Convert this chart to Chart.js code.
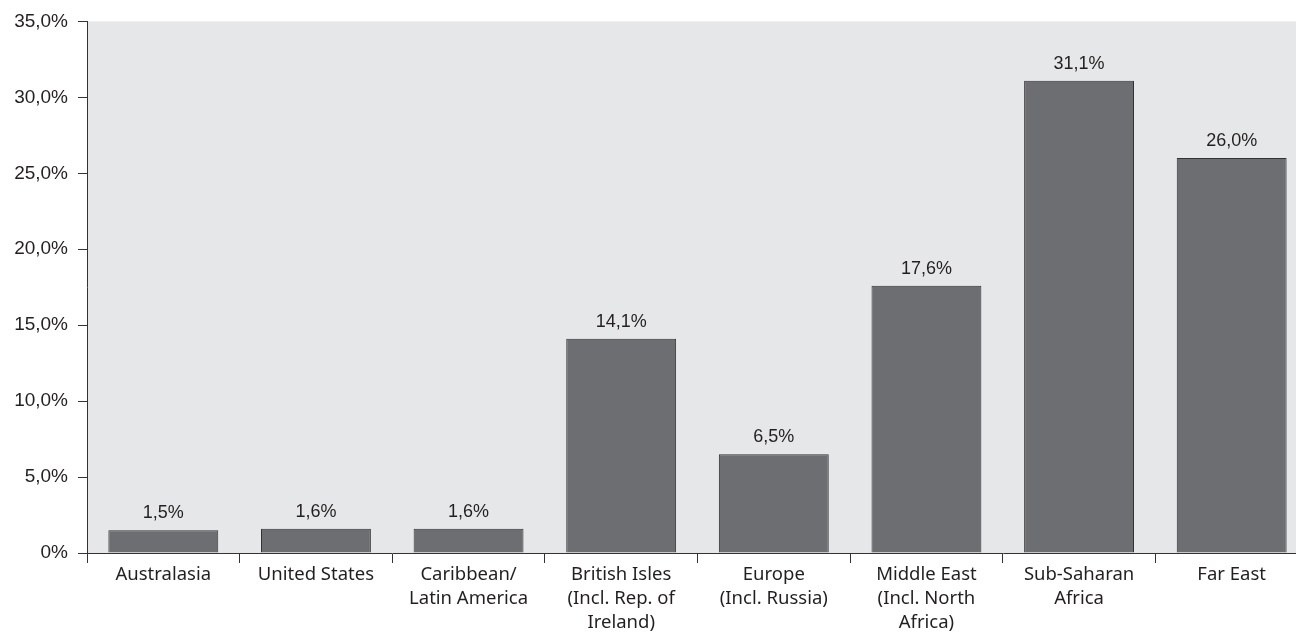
<!DOCTYPE html>
<html>
<head>
  <meta charset="utf-8" />
  <title>Regions</title>
  <script src="https://cdn.jsdelivr.net/npm/chart.js@4.4.0/dist/chart.umd.min.js"></script>
  <style>
    body { margin: 0; background: #fff; overflow: hidden; }
    #wrap { width: 1296px; height: 641px; position: relative; overflow: hidden; }
  </style>
</head>
<body>
<div id="wrap"><canvas id="regionChart" width="1308" height="641"></canvas></div>
<script>
  const regions = [
    'Australasia',
    'United States',
    ['Caribbean/', 'Latin America'],
    ['British Isles', '(Incl. Rep. of', 'Ireland)'],
    ['Europe', '(Incl. Russia)'],
    ['Middle East', '(Incl. North', 'Africa)'],
    ['Sub-Saharan', 'Africa'],
    'Far East'
  ];
  const shares = [1.5, 1.6, 1.6, 14.1, 6.5, 17.6, 31.1, 26.0];
  const yTicks = [0, 5, 10, 15, 20, 25, 30, 35];

  const textColor = '#231f20';
  const numFont = '"Liberation Sans", Arial, sans-serif';
  const fmt = v => v.toFixed(1).replace('.', ',') + '%';

  // grey plot background
  const plotBg = {
    id: 'plotBg',
    beforeDraw(chart) {
      const { ctx, chartArea: a } = chart;
      ctx.save();
      ctx.fillStyle = '#e6e7e8';
      ctx.fillRect(a.left, a.top, a.right - a.left, a.bottom - a.top);
      ctx.restore();
    }
  };

  // value labels above bars
  const valueLabels = {
    id: 'valueLabels',
    afterDatasetsDraw(chart) {
      const { ctx } = chart;
      const meta = chart.getDatasetMeta(0);
      ctx.save();
      ctx.fillStyle = textColor;
      ctx.font = '18px ' + numFont;
      ctx.textAlign = 'center';
      ctx.textBaseline = 'bottom';
      meta.data.forEach((bar, i) => {
        ctx.fillText(fmt(shares[i]), bar.x, bar.y - 8);
      });
      ctx.restore();
    }
  };

  new Chart(document.getElementById('regionChart'), {
    type: 'bar',
    data: {
      labels: regions,
      datasets: [{
        data: shares,
        backgroundColor: '#6d6e71',
        borderColor: '#333335',
        borderWidth: 1,
        barPercentage: 0.72,
        categoryPercentage: 1
      }]
    },
    options: {
      responsive: false,
      animation: false,
      layout: { padding: { top: 20, right: 0, left: 0, bottom: 0 } },
      plugins: {
        legend: { display: false },
        tooltip: { enabled: false }
      },
      scales: {
        x: {
          grid: {
            offset: true,
            drawOnChartArea: false,
            drawTicks: true,
            tickLength: 10,
            color: '#333'
          },
          border: { color: '#333', width: 1 },
          ticks: {
            color: textColor,
            font: { family: '"Noto Sans", "Open Sans", sans-serif', size: 18.5, lineHeight: 1.3 },
            padding: 0,
            maxRotation: 0,
            autoSkip: false
          },
          afterFit(scale) { scale.height = 88; }
        },
        y: {
          min: 0,
          max: 35,
          afterBuildTicks(scale) { scale.ticks = yTicks.map(v => ({ value: v })); },
          grid: {
            drawOnChartArea: false,
            drawTicks: true,
            tickLength: 9,
            color: '#333'
          },
          border: { color: '#333', width: 1 },
          ticks: {
            color: textColor,
            font: { family: numFont, size: 19 },
            padding: 10,
            callback: v => v === 0 ? '0%' : fmt(v)
          },
          afterFit(scale) { scale.width = 87; }
        }
      }
    },
    plugins: [plotBg, valueLabels]
  });
</script>
</body>
</html>
